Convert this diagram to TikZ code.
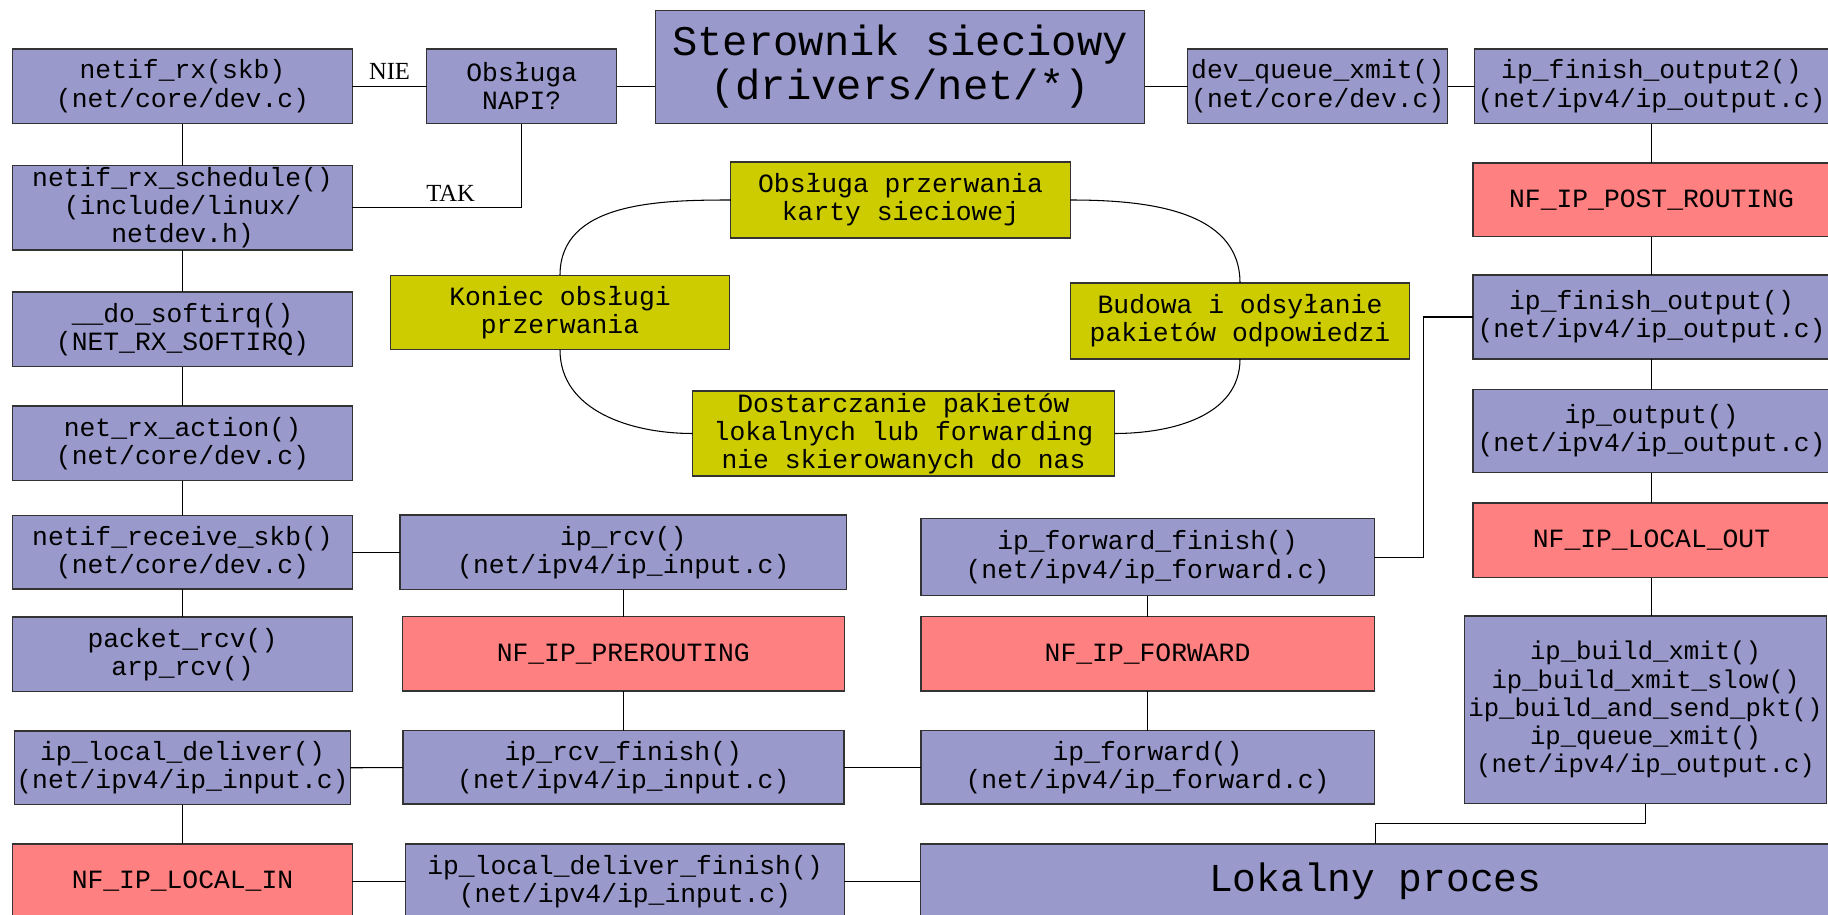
\documentclass[tikz,border=0pt]{standalone}
\usepackage{fontspec}
\setmainfont{Liberation Serif}
\setmonofont{Liberation Mono}
\usetikzlibrary{positioning}
\definecolor{funcblue}{HTML}{9999CC}
\definecolor{hookred}{HTML}{FF8080}
\definecolor{irqyellow}{HTML}{CCCC00}

\begin{document}
\begin{tikzpicture}[
        node distance=0.8cm,
        font=\ttfamily\fontsize{15}{16.1}\selectfont,
        func/.style={rectangle, draw=black!80, line width=0.8pt, fill=funcblue, outer sep=0pt, inner sep=1pt, align=center},
        hook/.style={func, fill=hookred},
        irq/.style={func, fill=irqyellow},
        bigtext/.style={font=\ttfamily\fontsize{24}{25}\selectfont},
        answer/.style={font=\rmfamily\fontsize{14}{16}\selectfont},
        wire/.style={line width=0.6pt}
    ]

    \useasboundingbox (0,0) rectangle (36.56,-18.30);

    % odbior: lewa kolumna
    \node (netifrx) [func, minimum width=6.79cm, minimum height=1.49cm] at (3.65,-1.725) {netif\_rx(skb)\\(net/core/dev.c)};
    \node (schedule) [func, minimum width=6.79cm, minimum height=1.66cm, below=0.84cm of netifrx] {netif\_rx\_schedule()\\(include/linux/\\netdev.h)};
    \node (softirq) [func, minimum width=6.79cm, minimum height=1.49cm, below=0.84cm of schedule] {\_\_do\_softirq()\\(NET\_RX\_SOFTIRQ)};
    \node (netrxaction) [func, minimum width=6.79cm, minimum height=1.49cm, below=0.79cm of softirq] {net\_rx\_action()\\(net/core/dev.c)};
    \node (receiveskb) [func, minimum width=6.79cm, minimum height=1.47cm, below=0.70cm of netrxaction] {netif\_receive\_skb()\\(net/core/dev.c)};
    \node (packetrcv) [func, minimum width=6.79cm, minimum height=1.49cm, below=0.56cm of receiveskb] {packet\_rcv()\\arp\_rcv()};
    \node (localdeliver) [func, minimum width=6.69cm, minimum height=1.47cm, below=0.79cm of packetrcv] {ip\_local\_deliver()\\(net/ipv4/ip\_input.c)};
    \node (localin) [hook, minimum width=6.79cm, minimum height=1.49cm, below=0.79cm of localdeliver] {NF\_IP\_LOCAL\_IN};

    % gora
    \node (napi) [func, minimum width=3.8cm, minimum height=1.49cm, right=1.49cm of netifrx] {Obsługa\\NAPI?};
    \node (sterownik) [func, bigtext, minimum width=9.79cm, minimum height=2.26cm, right=0.77cm of napi.south east, anchor=south west] {Sterownik sieciowy\\(drivers/net/*)};

    % srodkowa kolumna
    \node (iprcv) [func, minimum width=8.93cm, minimum height=1.49cm, right=0.956cm of receiveskb] {ip\_rcv()\\(net/ipv4/ip\_input.c)};
    \node (prerouting) [hook, minimum width=8.84cm, minimum height=1.49cm, below=0.54cm of iprcv] {NF\_IP\_PREROUTING};
    \node (rcvfinish) [func, minimum width=8.82cm, minimum height=1.47cm, below=0.79cm of prerouting] {ip\_rcv\_finish()\\(net/ipv4/ip\_input.c)};
    \node (localdelfin) [func, minimum width=8.77cm, minimum height=1.49cm, right=1.07cm of localin] {ip\_local\_deliver\_finish()\\(net/ipv4/ip\_input.c)};

    % forwarding
    \node (ipforward) [func, minimum width=9.07cm, minimum height=1.47cm, right=1.54cm of rcvfinish] {ip\_forward()\\(net/ipv4/ip\_forward.c)};
    \node (nfforward) [hook, minimum width=9.07cm, minimum height=1.49cm, above=0.79cm of ipforward] {NF\_IP\_FORWARD};
    \node (fwdfinish) [func, minimum width=9.07cm, minimum height=1.54cm, above=0.42cm of nfforward] {ip\_forward\_finish()\\(net/ipv4/ip\_forward.c)};
    \node (lokalny) [func, font=\ttfamily\fontsize{22.5}{24}\selectfont, minimum width=18.2cm, minimum height=1.49cm, right=1.52cm of localdelfin] {Lokalny proces};

    % wysylanie: prawa kolumna
    \node (finout2) [func, minimum width=7.07cm, minimum height=1.49cm] at (33.03,-1.725) {ip\_finish\_output2()\\(net/ipv4/ip\_output.c)};
    \node (postrouting) [hook, minimum width=7.14cm, minimum height=1.47cm, below=0.79cm of finout2] {NF\_IP\_POST\_ROUTING};
    \node (finout) [func, minimum width=7.14cm, minimum height=1.68cm, below=0.77cm of postrouting] {ip\_finish\_output()\\(net/ipv4/ip\_output.c)};
    \node (ipoutput) [func, minimum width=7.14cm, minimum height=1.66cm, below=0.61cm of finout] {ip\_output()\\(net/ipv4/ip\_output.c)};
    \node (localout) [hook, minimum width=7.14cm, minimum height=1.49cm, below=0.61cm of ipoutput] {NF\_IP\_LOCAL\_OUT};
    \node (build) [func, font=\ttfamily\fontsize{14.6}{16.1}\selectfont, minimum width=7.25cm, minimum height=3.75cm, below=0.77cm of localout, xshift=-0.12cm] {ip\_build\_xmit()\\ip\_build\_xmit\_slow()\\ip\_build\_and\_send\_pkt()\\ip\_queue\_xmit()\\(net/ipv4/ip\_output.c)};
    \node (devq) [func, minimum width=5.2cm, minimum height=1.49cm, left=0.54cm of finout2] {dev\_queue\_xmit()\\(net/core/dev.c)};

    % cykl przerwania
    \node (karty) [irq, minimum width=6.79cm, minimum height=1.52cm] at (18.01,-4.0) {Obsługa przerwania\\karty sieciowej};
    \node (koniec) [irq, minimum width=6.79cm, minimum height=1.49cm] at (11.2,-6.25) {Koniec obsługi\\przerwania};
    \node (budowa) [irq, minimum width=6.79cm, minimum height=1.52cm] at (24.8,-6.42) {Budowa i odsyłanie\\pakietów odpowiedzi};
    \node (dostarczanie) [irq, minimum width=8.44cm, minimum height=1.68cm] at (18.07,-8.67) {Dostarczanie pakietów\\lokalnych lub forwarding\\nie skierowanych do nas};

    \draw [wire] (netifrx) -- node[answer, above] {NIE} (napi);
    \draw [wire] (napi.east) -- (napi.east -| sterownik.west);
    \draw [wire] (schedule.east) -| node[answer, pos=0.29, above] {TAK} (napi.south);
    \draw [wire] (devq.west) -- (devq.west -| sterownik.east);
    \draw [wire] (finout2) -- (devq);

    \draw [wire] (netifrx) -- (schedule);
    \draw [wire] (schedule) -- (softirq);
    \draw [wire] (softirq) -- (netrxaction);
    \draw [wire] (netrxaction) -- (receiveskb);
    \draw [wire] (receiveskb) -- (packetrcv);
    \draw [wire] (receiveskb) -- (iprcv);
    \draw [wire] (localdeliver) -- (localin);

    \draw [wire] (iprcv) -- (prerouting);
    \draw [wire] (prerouting) -- (rcvfinish);
    \draw [wire] (rcvfinish) -- (localdeliver);
    \draw [wire] (rcvfinish) -- (ipforward);
    \draw [wire] (localin) -- (localdelfin);
    \draw [wire] (localdelfin) -- (lokalny);

    \draw [wire] (ipforward) -- (nfforward);
    \draw [wire] (nfforward) -- (fwdfinish);
    \draw [wire] (fwdfinish.east) -- ++(0.98,0) |- (finout.west);

    \draw [wire] (finout2) -- (postrouting);
    \draw [wire] (postrouting) -- (finout);
    \draw [wire] (finout) -- (ipoutput);
    \draw [wire] (ipoutput) -- (localout);
    \draw [wire] (localout) -- (localout |- build.north);
    \draw [wire] (build.south) -- ++(0,-0.4) -| (lokalny.north);

    \draw [wire] (karty.west) to[out=180, in=90] (koniec.north);
    \draw [wire] (karty.east) to[out=0, in=90] (budowa.north);
    \draw [wire] (budowa.south) to[out=-90, in=0] (dostarczanie.east);
    \draw [wire] (dostarczanie.west) to[out=180, in=-90] (koniec.south);

\end{tikzpicture}
\end{document}
